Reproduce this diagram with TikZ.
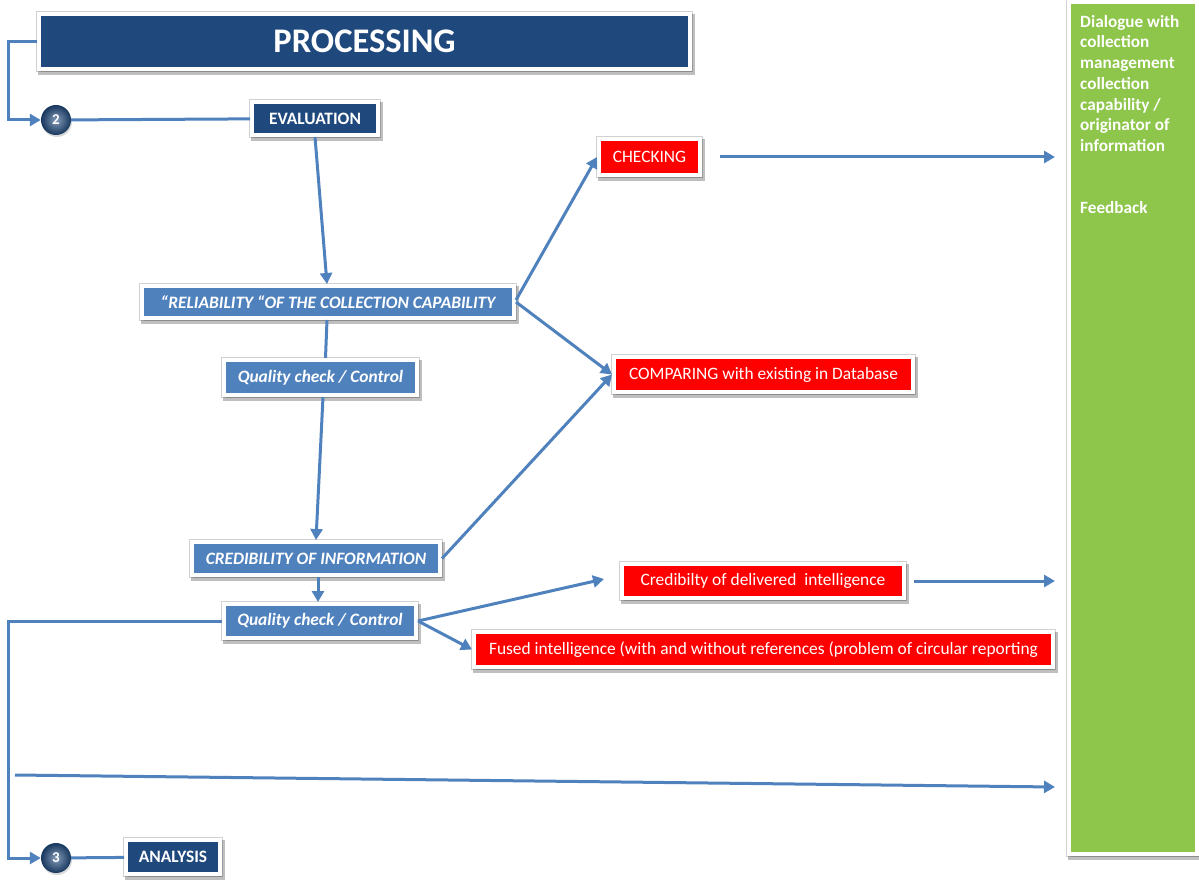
\documentclass[tikz,border=0pt]{standalone}
\usepackage{fontspec}
\setmainfont{Carlito}
\usetikzlibrary{arrows.meta,shadows,calc}
\definecolor{dblue}{RGB}{31,73,125}
\definecolor{mblue}{RGB}{79,129,189}
\definecolor{lineblue}{RGB}{79,129,189}
\definecolor{gbox}{RGB}{141,198,74}
\definecolor{rbox}{RGB}{255,0,0}
\newcommand{\boxfont}{\fontsize{17.4}{20}\selectfont}
\tikzset{
  boxbase/.style={draw=white, line width=4pt, inner sep=0pt, text=white,
    preaction={draw=black!18, line width=6pt},
    drop shadow={shadow xshift=1.5pt, shadow yshift=-3pt, opacity=0.25, draw=black, line width=6pt}},
  darkbox/.style={boxbase, fill=dblue, font=\boxfont\bfseries},
  midbox/.style={boxbase, fill=mblue, font=\boxfont\bfseries\itshape},
  redbox/.style={boxbase, fill=rbox, font=\boxfont},
  ballnode/.style={circle, minimum size=30pt, inner sep=0pt, inner color=dblue!55!white, outer color=dblue!75!black,
    text=white, font=\fontsize{15}{17}\selectfont\bfseries,
    drop shadow={shadow xshift=1pt, shadow yshift=-2pt, opacity=0.3}},
  ln/.style={draw=lineblue, line width=3pt},
  arr/.style={ln, -{Triangle[width=12pt,length=11pt]}},
}
\begin{document}
\begin{tikzpicture}[x=1pt,y=-1pt]
\useasboundingbox (0,0) rectangle (1199,882);
% green column
\node[boxbase, fill=gbox, minimum width=128pt, minimum height=851pt] (green) at (1133,428) {};
\node[anchor=north west, inner sep=0pt, align=left, text=white,
  font=\fontsize{17.2}{20.7}\selectfont\bfseries] (gtext) at (1080,15)
  {Dialogue with\\collection\\management\\collection\\capability /\\originator of\\information\\[41.4pt]Feedback};
% dark boxes
\node[darkbox, minimum width=651pt, minimum height=55pt, font=\fontsize{34.5}{38}\selectfont\bfseries] (proc) at (364.5,41.5) {PROCESSING};
\node[darkbox, minimum width=126pt, minimum height=33pt] (eval) at (315,118.5) {EVALUATION};
\node[darkbox, minimum width=94pt, minimum height=34pt] (anal) at (173,857) {ANALYSIS};
% balls
\node[ballnode] (c2) at (56,120) {2};
\node[ballnode] (c3) at (56,858) {3};
% mid-blue boxes
\node[midbox, minimum width=372pt, minimum height=32pt] (rel) at (328,302) {“RELIABILITY\ “OF THE COLLECTION\ CAPABILITY};
\node[midbox, minimum width=193pt, minimum height=35pt] (qc1) at (320.5,377.5) {Quality check / Control};
\node[midbox, minimum width=248pt, minimum height=33pt] (cred) at (316,558.5) {CREDIBILITY OF INFORMATION};
\node[midbox, minimum width=192pt, minimum height=34pt] (qc2) at (320,621) {Quality check / Control};
% red boxes
\node[redbox, minimum width=101pt, minimum height=36pt] (chk) at (649.5,157) {CHECKING};
\node[redbox, minimum width=299pt, minimum height=35pt] (cmp) at (763.5,374.5) {COMPARING with existing in Database};
\node[redbox, minimum width=282pt, minimum height=34pt] (cdi) at (763,581) {Credibilty of delivered\ \ intelligence};
\node[redbox, minimum width=579pt, minimum height=35pt] (fus) at (763.5,649.5) {Fused intelligence (with and without references (problem of circular reporting};
% helper coordinates
\coordinate (lx) at (8,0);
\coordinate (fs) at (15,775);
\coordinate (fe) at (1055,787);
% connectors
\draw[arr] (proc.west) -- (proc.west -| lx) |- (c2.west);
\draw[ln] (c2) -- (eval);
\draw[arr] (eval.south) -- ([xshift=-1pt]rel.north);
\draw[ln] ([xshift=-1pt]rel.south) -- ([xshift=5pt]qc1.north);
\draw[arr] ([xshift=2.5pt]qc1.south) -- (cred.north);
\draw[arr] ([xshift=2pt]cred.south) -- ([xshift=-2pt]qc2.north);
\draw[arr] ([yshift=2pt]rel.east) -- (chk.west);
\draw[arr] (rel.east) -- (cmp.west);
\draw[arr] (cred.east) -- (cmp.west);
\draw[arr] ([xshift=18pt]chk.east) -- ([xshift=-12pt]chk.east -| green.west);
\draw[arr] (qc2.east) -- ([xshift=-16pt,yshift=2pt]cdi.west);
\draw[arr] (qc2.east) -- (fus.west);
\draw[arr] ([xshift=8pt]cdi.east) -- ([xshift=-12pt]cdi.east -| green.west);
\draw[arr] (qc2.west) -- (qc2.west -| lx) |- (c3.west);
\draw[ln] (c3) -- (anal);
\draw[arr] (fs) -- (fe);
\end{tikzpicture}
\end{document}
